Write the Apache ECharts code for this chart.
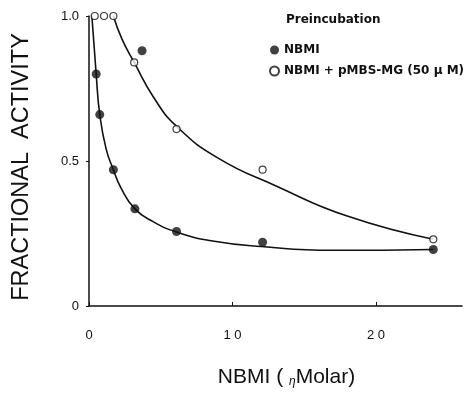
<!DOCTYPE html>
<html>
<head>
<meta charset="utf-8">
<script src="https://cdn.jsdelivr.net/npm/echarts@6/dist/echarts.min.js"></script>
<style>
  html, body { margin: 0; padding: 0; background: #fff; }
  #chart { width: 472px; height: 393px; }
</style>
</head>
<body>
<div id="chart"></div>
<script>
// measured points
var nbmiX = [0.5, 0.75, 1.7, 3.2, 3.7, 6.1, 12.1, 24]
var nbmiY = [0.8, 0.66, 0.47, 0.335, 0.88, 0.257, 0.22, 0.195]
var mixX = [0.4, 1.05, 1.7, 3.15, 6.1, 12.1, 24]
var mixY = [1.0, 1.0, 1.0, 0.84, 0.61, 0.47, 0.23]

// hand drawn fit curves
var nbmiFitX = [0.2, 0.5, 0.75, 1.2, 1.7, 2.2, 3.2, 4.5, 6.1, 8.5, 12, 17, 24]
var nbmiFitY = [1.0, 0.8, 0.66, 0.54, 0.47, 0.41, 0.335, 0.29, 0.255, 0.225, 0.205, 0.192, 0.195]
var mixFitX = [1.7, 2.3, 3.15, 4.5, 6.1, 9, 13, 18, 24]
var mixFitY = [1.0, 0.92, 0.84, 0.72, 0.62, 0.51, 0.415, 0.31, 0.23]

var xTicks = [0, 10, 20]
var yTicks = [0, 0.5, 1.0]

function pairs(xs, ys) {
  return xs.map(function (x, i) { return [x, ys[i]] })
}

var chart = echarts.init(document.getElementById('chart'))
var ink = '#111'
var legendFont = 'DejaVu Sans'
chart.setOption({
  animation: false,
  backgroundColor: '#fff',
  textStyle: { fontFamily: 'Liberation Sans', color: ink },
  grid: { left: 89, right: 10, top: 16, bottom: 85 },
  title: {
    text: 'Preincubation',
    left: 281, top: 9,
    textStyle: { fontSize: 12, fontWeight: 600, color: ink, fontFamily: legendFont }
  },
  legend: {
    orient: 'vertical',
    left: 264, top: 39,
    itemGap: 9,
    itemWidth: 9, itemHeight: 9,
    data: ['NBMI', 'NBMI + pMBS-MG (50 μ M)'],
    textStyle: { fontSize: 12, fontWeight: 600, color: ink, fontFamily: legendFont }
  },
  xAxis: {
    type: 'value',
    min: 0, max: 26, interval: 10,
    name: 'NBMI ( {n|η}Molar)',
    nameLocation: 'middle',
    nameGap: 60,
    nameTextStyle: {
      fontSize: 21, color: ink, padding: [0, 0, 0, 22],
      rich: { n: { fontSize: 12, fontStyle: 'italic', padding: [10, 0, 0, 0], color: ink } }
    },
    splitLine: { show: false },
    axisLine: { lineStyle: { color: ink, width: 1.5 } },
    axisTick: { inside: true, length: 4, lineStyle: { color: ink } },
    axisLabel: {
      showMaxLabel: false, margin: 23, fontSize: 13, color: ink,
      formatter: function (v) { return xTicks.indexOf(v) >= 0 ? String(v).split('').join(' ') : '' }
    }
  },
  yAxis: {
    type: 'value',
    min: 0, max: 1.0, interval: 0.5,
    name: 'FRACTIONAL  ACTIVITY',
    nameLocation: 'middle',
    nameGap: 55,
    nameTextStyle: { fontSize: 23.5, color: ink, padding: [0, 12, 0, 0] },
    splitLine: { show: false },
    axisLine: { show: true, lineStyle: { color: ink, width: 1.5 } },
    axisTick: { show: true, length: 3, lineStyle: { color: ink } },
    axisLabel: {
      margin: 10, fontSize: 13, color: ink,
      formatter: function (v) {
        if (yTicks.indexOf(v) < 0) return ''
        return v === 0 ? '0' : v.toFixed(1)
      }
    }
  },
  series: [
    {
      name: 'nbmiFit', type: 'line', smooth: 0.5,
      showSymbol: false, silent: true,
      lineStyle: { color: ink, width: 1.6 },
      data: pairs(nbmiFitX, nbmiFitY)
    },
    {
      name: 'mixFit', type: 'line', smooth: 0.5,
      showSymbol: false, silent: true,
      lineStyle: { color: ink, width: 1.6 },
      data: pairs(mixFitX, mixFitY)
    },
    {
      name: 'NBMI', type: 'scatter', symbol: 'circle', symbolSize: 9, z: 5,
      itemStyle: { color: ink },
      data: pairs(nbmiX, nbmiY)
    },
    {
      name: 'NBMI + pMBS-MG (50 μ M)', type: 'scatter', symbol: 'circle', symbolSize: 7, z: 5,
      itemStyle: { color: '#fff', borderColor: ink, borderWidth: 1.2 },
      data: pairs(mixX, mixY)
    }
  ]
})
</script>
</body>
</html>
